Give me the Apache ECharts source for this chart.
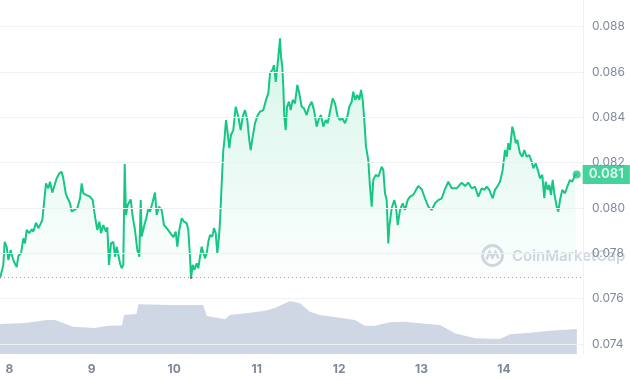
<!DOCTYPE html>
<html>
<head>
<meta charset="utf-8">
<style>
html,body{margin:0;padding:0;background:#fff;}
#chart{width:630px;height:380px;}
</style>
<script src="https://cdn.jsdelivr.net/npm/echarts@6/dist/echarts.min.js"></script>
</head>
<body>
<div id="chart"></div>
<script>
// Hours since day 8, 00:00
const priceHours = [
-2.7,-1.75,-1.34,-0.76,-0.29,0.41,0.87,1.37,2.15,2.62,
3.41,4.08,4.57,5.06,5.82,6.52,6.99,7.77,8.44,8.94,
9.61,10.19,10.68,11.35,11.85,12.52,13.1,13.8,14.55,15.25,
15.72,16.42,17.0,17.67,18.16,18.83,19.79,20.58,21.07,21.54,
22.33,23.49,24.28,24.95,25.62,26.2,26.69,27.36,28.15,28.53,
29.02,29.6,30.27,30.77,31.26,31.84,32.22,32.72,33.18,33.59,
33.97,34.46,34.93,35.34,35.92,36.59,37.26,37.84,38.25,38.54,
39.21,39.99,40.46,40.96,41.74,42.41,42.9,43.57,44.36,45.03,
45.82,46.78,47.74,48.44,48.9,49.48,50.18,50.85,51.64,52.1,
52.6,52.89,53.38,53.85,54.55,55.01,55.51,56.0,56.47,56.96,
57.46,57.93,58.42,59.09,59.58,60.08,60.55,61.04,61.33,61.83,
62.29,62.58,63.08,63.57,64.04,64.53,65.2,65.9,66.66,67.36,
67.94,68.61,69.28,69.86,70.27,70.85,71.52,72.31,72.98,73.94,
74.72,75.39,75.89,76.56,77.05,77.55,78.13,78.6,78.8,79.09,
79.47,79.76,80.05,80.46,80.84,81.42,81.91,82.49,83.16,83.83,
84.41,85.11,85.78,86.57,87.24,88.02,88.69,89.48,90.15,90.73,
91.4,92.1,92.68,93.35,94.14,94.81,95.59,96.26,96.93,97.72,
98.39,98.97,99.67,100.13,100.72,101.3,101.88,102.38,102.87,103.34,
103.83,104.5,104.99,105.49,105.95,106.65,107.41,108.4,108.87,109.36,
109.86,110.32,110.61,111.31,112.07,112.56,113.06,113.73,114.51,115.18,
115.97,116.64,117.6,118.39,119.06,120.04,121.01,121.97,122.96,123.92,
124.88,125.87,126.83,127.79,128.78,130.23,131.69,132.65,133.61,134.6,
135.56,136.52,137.51,138.27,138.97,139.72,140.71,141.38,141.88,142.84,
143.62,144.29,144.79,145.25,145.75,146.42,146.91,147.41,147.87,148.66,
149.33,149.91,150.61,151.37,152.06,152.53,153.23,153.99,154.48,155.15,
155.74,156.14,156.72,157.19,157.68,158.18,158.64,159.34,159.81,160.3,
160.97,161.76,162.43,163.21,163.88,164.67,165.16
];
const priceValues = [
0.07690,0.07749,0.07851,0.07829,0.07771,0.07815,0.07785,0.07763,0.07739,0.07788,
0.07800,0.07866,0.07844,0.07903,0.07889,0.07906,0.07896,0.07935,0.07911,0.07925,
0.07947,0.08035,0.08109,0.08087,0.08116,0.08068,0.08097,0.08131,0.08153,0.08160,
0.08131,0.08065,0.08043,0.08021,0.07984,0.07991,0.07999,0.08043,0.08109,0.08065,
0.08058,0.08050,0.08035,0.07962,0.07903,0.07940,0.07889,0.07925,0.07896,0.07915,
0.07749,0.07844,0.07851,0.07785,0.07829,0.07837,0.07756,0.07734,0.07749,0.08194,
0.07969,0.08013,0.08006,0.08038,0.07962,0.07903,0.07815,0.07785,0.08035,0.07874,
0.07918,0.07962,0.07999,0.07984,0.08028,0.08068,0.07969,0.08006,0.07991,0.07925,
0.07911,0.07891,0.07871,0.07896,0.07829,0.07903,0.07955,0.07940,0.07933,0.07903,
0.07785,0.07688,0.07749,0.07727,0.07756,0.07734,0.07785,0.07829,0.07822,0.07778,
0.07800,0.07851,0.07881,0.07874,0.07911,0.07889,0.07800,0.07874,0.07940,0.08109,
0.08256,0.08293,0.08388,0.08330,0.08264,0.08322,0.08344,0.08447,0.08403,0.08344,
0.08403,0.08432,0.08388,0.08300,0.08256,0.08315,0.08374,0.08410,0.08425,0.08432,
0.08477,0.08506,0.08594,0.08609,0.08631,0.08557,0.08639,0.08712,0.08749,0.08668,
0.08624,0.08535,0.08403,0.08344,0.08447,0.08469,0.08432,0.08477,0.08462,0.08543,
0.08506,0.08447,0.08440,0.08410,0.08447,0.08469,0.08432,0.08359,0.08396,0.08410,
0.08359,0.08388,0.08374,0.08425,0.08484,0.08462,0.08403,0.08388,0.08396,0.08374,
0.08403,0.08447,0.08469,0.08513,0.08477,0.08499,0.08477,0.08521,0.08477,0.08388,
0.08271,0.08212,0.08094,0.08006,0.08124,0.08146,0.08138,0.08182,0.08168,0.08065,
0.08035,0.07844,0.07918,0.07999,0.08035,0.08006,0.07925,0.07991,0.08021,0.07991,
0.08035,0.08050,0.08058,0.08080,0.08097,0.08083,0.08043,0.08006,0.07991,0.08021,
0.08035,0.08043,0.08083,0.08116,0.08087,0.08087,0.08112,0.08097,0.08112,0.08087,
0.08094,0.08050,0.08087,0.08080,0.08094,0.08080,0.08043,0.08080,0.08091,0.08116,
0.08168,0.08256,0.08226,0.08286,0.08256,0.08359,0.08330,0.08286,0.08300,0.08241,
0.08226,0.08256,0.08226,0.08234,0.08204,0.08175,0.08197,0.08160,0.08131,0.08146,
0.08043,0.08116,0.08080,0.08102,0.08058,0.08124,0.08065,0.08006,0.07984,0.08035,
0.08080,0.08065,0.08094,0.08124,0.08116,0.08146,0.08148
];
const openPrice = 0.07694;
const volumeHours = [-2.7,4.57,10.97,13.3,18.55,24.9,28.7,32.8,33.4,37.0,37.6,46.8,56.4,57.5,62.8,64.2,70.1,74.4,77.3,81.7,84.6,87.5,90.4,96.3,100.6,103.5,106.4,110.8,115.2,119.5,125.4,129.7,135.6,142.8,145.8,151.6,157.4,165.2];
const volumeValues = [30,31,34,34,27.3,26,28.3,28.5,39,40,49.7,49,49,38,34.7,39,41.3,43.3,46,53,50.7,42.3,39,36.3,34,28.3,28.3,31.7,32.3,30.7,29,20.7,15.7,15,19.7,21.3,23.3,25];
const yMin = 0.072, yMax = 0.090, yStep = 0.002;
const xStartHour = -2.71, xEndHour = 167.0;

const H = 3600000;
const base = new Date(2023, 9, 8, 0, 0, 0).getTime();
const priceData = priceHours.map((h, i) => [base + h * H, priceValues[i]]);
const volumeData = volumeHours.map((h, i) => [base + h * H, volumeValues[i]]);
const lastPoint = priceData[priceData.length - 1];

const green = '#16c784', red = '#ea3943';
const chart = echarts.init(document.getElementById('chart'));
chart.setOption({
  animation: false,
  backgroundColor: '#ffffff',
  grid: [
    {left: 0, right: 47, top: -18.6, height: 407.9, outerBoundsMode: 'none', containLabel: false},
    {left: 0, right: 47, top: 254, bottom: 26, outerBoundsMode: 'none', containLabel: false},
    {left: 0, right: 47, top: 0, bottom: 26, outerBoundsMode: 'none', containLabel: false}
  ],
  xAxis: [
    {gridIndex: 0, type: 'time', min: base + xStartHour * H, max: base + xEndHour * H, show: false},
    {gridIndex: 1, type: 'time', min: base + xStartHour * H, max: base + xEndHour * H,
     minInterval: 24 * H, maxInterval: 24 * H,
     axisLine: {show: false}, axisTick: {show: false}, splitLine: {show: false},
     axisLabel: {color: '#7f8699', fontSize: 12, fontWeight: 700, fontFamily: 'Inter', margin: 9,
       formatter: v => String(new Date(v).getDate())}},
    {gridIndex: 2, type: 'value', show: false}
  ],
  yAxis: [
    {gridIndex: 0, type: 'value', position: 'right', min: yMin, max: yMax, interval: yStep, z: 5,
     axisLine: {show: false}, axisTick: {show: false},
     splitLine: {show: true, lineStyle: {color: '#eff2f5', width: 1}},
     axisLabel: {showMinLabel: false, showMaxLabel: false, color: '#808a9d', fontSize: 12, fontFamily: 'Inter', margin: 9,
       formatter: v => v.toFixed(3)}},
    {gridIndex: 1, type: 'value', min: 0, max: 100, show: false},
    {gridIndex: 2, type: 'value', position: 'right', min: 0, max: 1,
     axisLine: {show: true, onZero: false, lineStyle: {color: '#eff2f5'}},
     axisTick: {show: false}, axisLabel: {show: false}, splitLine: {show: false}}
  ],
  visualMap: {
    show: false, type: 'piecewise', seriesIndex: 0, dimension: 1,
    pieces: [{gte: 0, lt: openPrice, color: red}, {gte: openPrice, lte: 1, color: green}]
  },
  graphic: [{
    type: 'group', left: 480, top: 243, z: 1, silent: true,
    children: [
      {type: 'circle', shape: {cx: 11.5, cy: 11, r: 10}, style: {stroke: '#d3d7df', lineWidth: 2.8, fill: null}},
      {type: 'polyline', shape: {points: [[5.5, 15], [8.5, 7.5], [11.5, 13], [14.5, 7.5], [17.5, 14]]}, style: {stroke: '#d3d7df', lineWidth: 2.5, fill: null}},
      {type: 'text', x: 31, y: 11.5, style: {text: 'CoinMarketCap', font: '600 15px Inter', fill: '#d3d7df', verticalAlign: 'middle'}}
    ]
  }],
  series: [
    {
      type: 'line', xAxisIndex: 0, yAxisIndex: 0, data: priceData, showSymbol: false, symbol: 'none', z: 3,
      lineStyle: {width: 2},
      areaStyle: {
        origin: openPrice,
        color: new echarts.graphic.LinearGradient(0, 0, 0, 1, [
          {offset: 0, color: 'rgba(22,199,132,0.25)'},
          {offset: 1, color: 'rgba(22,199,132,0.02)'}
        ])
      },
      markLine: {
        silent: true, symbol: 'none', precision: 6, label: {show: false},
        lineStyle: {type: [1, 3], color: '#9ea4b4', width: 1},
        data: [{yAxis: openPrice}]
      }
    },
    {
      type: 'line', xAxisIndex: 1, yAxisIndex: 1, data: volumeData, showSymbol: false, symbol: 'none', z: 2,
      lineStyle: {width: 0, color: '#cfd6e4'},
      areaStyle: {color: '#cfd6e4', opacity: 1}
    },
    {
      type: 'scatter', xAxisIndex: 0, yAxisIndex: 0, data: [lastPoint], symbol: 'circle', symbolSize: 8, z: 6,
      itemStyle: {color: green},
      label: {
        show: true, position: 'right', distance: 2,
        formatter: p => p.value[1].toFixed(3),
        backgroundColor: green, color: '#ffffff', fontFamily: 'Inter', fontWeight: 700, fontSize: 13,
        padding: [3, 6, 3, 6]
      }
    }
  ]
});
</script>
</body>
</html>
